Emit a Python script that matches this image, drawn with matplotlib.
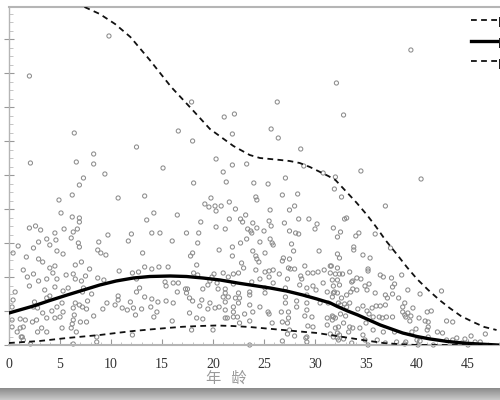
import matplotlib
matplotlib.use("Agg")
import matplotlib.pyplot as plt
import numpy as np
from matplotlib.ticker import MultipleLocator

# Scatter points (age, value). One major y tick = 34 units
ages_top = [9.8, 2.0, 6.4, 12.5, 8.3, 2.1, 6.6, 8.3, 15.1, 9.4, 7.3, 6.9, 6.2, 4.9, 10.7, 13.3, 32.1, 26.3, 17.9, 22.1,
            21.1, 16.6, 25.7, 21.9, 26.4, 18.0, 28.6, 20.3, 21.9, 23.3, 21.0, 18.1, 21.3, 24.0, 25.4, 27.1, 28.9, 30.8,
            32.0, 31.9, 28.3, 26.8, 24.2, 19.8, 32.8, 34.5, 40.4, 32.6, 39.4]
values_top = [309, 269, 212, 198, 191, 182, 183, 181, 177, 171, 167, 160, 150, 145, 147, 149, 262, 243, 243, 231,
              228, 214, 216, 211, 207, 204, 196, 186, 180, 181, 173, 162, 163, 162, 161, 167, 179, 172,
              168, 156, 151, 150, 148, 147, 230, 174, 166, 148, 295]

ages_left = [5.1, 6.2, 6.9, 6.9, 13.5, 14.2, 2.0, 2.6, 3.1, 5.4, 6.7, 6.3, 4.5, 9.7, 12.0, 14.0, 14.8, 6.1, 4.6, 3.7,
             2.9, 8.8, 11.7, 6.8, 6.9, 4.0, 0.9, 2.4, 4.7, 5.3, 8.7, 9.0, 9.5, 13.1, 0.4, 1.7, 2.9, 3.3, 6.5, 7.1,
             4.5, 4.0, 1.4, 7.9, 10.8, 12.1, 12.7, 13.3, 14.0, 14.7, 15.6, 4.3, 1.8, 2.4, 5.6, 6.3, 3.7, 4.7, 2.9, 6.5,
             7.1, 7.5, 8.7, 9.3, 12.5, 2.0, 3.5, 4.5, 5.3, 5.8, 7.3, 15.3, 15.4, 12.8, 12.5, 0.6, 8.1, 7.2, 4.0, 3.7,
             10.7, 13.3, 14.0, 14.6, 15.4, 0.4, 2.5, 7.7, 6.5, 5.2, 4.7, 6.9, 9.6, 10.4, 10.7, 11.9, 13.9, 0.3, 2.4, 2.8,
             4.2, 3.3, 5.3, 6.3, 6.4, 7.2, 7.6, 9.2, 11.1, 11.6, 12.2, 13.0, 14.5, 12.4, 8.3, 14.2, 0.3, 1.1, 1.6, 2.3,
             2.7, 3.7, 4.5, 5.0, 6.3, 7.0, 7.6, 6.2, 3.2, 1.4, 0.3, 5.2, 6.1, 0.8, 2.8, 3.7, 1.3, 6.6, 12.1, 1.2,
             1.4, 2.1, 6.3, 8.6, 8.6, 1.1]
values_left = [132, 128, 127, 123, 125, 132, 117, 119, 115, 116, 116, 113, 112, 110, 111, 112, 112, 107, 105, 106,
               103, 103, 104, 102, 98, 100, 99, 97, 94, 91, 95, 92, 90, 92, 92, 88, 86, 83, 80, 83,
               79, 77, 75, 76, 74, 72, 73, 78, 76, 78, 78, 72, 68, 71, 70, 71, 66, 66, 64, 66,
               64, 69, 67, 65, 66, 59, 55, 58, 54, 57, 57, 63, 59, 57, 53, 53, 51, 53, 49, 47,
               49, 48, 46, 43, 44, 45, 43, 44, 42, 42, 38, 40, 42, 40, 45, 43, 38, 38, 38, 37,
               34, 32, 33, 37, 30, 38, 36, 36, 37, 35, 37, 36, 33, 30, 29, 28, 25, 26, 25, 23,
               25, 27, 27, 28, 25, 23, 23, 21, 17, 18, 18, 17, 17, 13, 13, 13, 8, 13, 10, 8,
               5, 1, 1, 8, 3, 17]

ages_mid = [24.3, 21.6, 19.2, 20.2, 19.6, 20.8, 20.3, 28.0, 27.5, 25.6, 22.2, 23.2, 16.5, 21.6, 22.7, 22.9, 25.5, 28.4, 29.4, 30.2,
            18.8, 27.0, 25.7, 20.3, 21.2, 23.4, 23.7, 23.9, 24.3, 23.8, 25.0, 30.0, 31.8, 27.5, 28.1, 28.4, 17.4, 18.6, 32.2, 23.3,
            25.6, 16.0, 18.5, 22.7, 24.6, 25.8, 25.9, 27.7, 21.9, 20.6, 27.9, 30.4, 23.9, 25.1, 18.0, 17.8, 21.9, 24.2, 32.2, 32.4,
            26.9, 26.8, 27.5, 24.3, 24.5, 22.8, 18.4, 23.0, 27.4, 27.6, 28.0, 29.0, 31.5, 32.2, 24.2, 18.1, 20.1, 21.0, 22.0, 22.5,
            25.1, 25.5, 25.9, 26.5, 29.3, 29.8, 30.3, 30.9, 31.5, 28.6, 25.5, 19.9, 21.5, 24.6, 27.3, 28.7, 30.8, 32.2, 19.7, 18.5,
            16.1, 16.6, 20.4, 22.0, 23.8, 25.9, 28.5, 29.8, 31.8, 19.5, 19.0, 20.5, 17.3, 17.5, 16.5, 17.4, 21.2, 21.2, 23.6, 23.6,
            25.1, 25.1, 27.1, 27.1, 29.2, 29.2, 30.1, 31.2, 31.8, 22.5, 22.2, 22.6, 21.0, 21.5, 17.7, 18.0, 18.9, 16.1, 19.7, 21.2,
            22.5, 23.6, 24.6, 27.1, 28.2, 29.2, 30.5, 31.3, 32.3, 18.7, 20.6, 20.2, 19.5, 22.0, 22.0, 25.4, 25.5, 27.4, 28.2, 29.2,
            17.7, 21.2, 23.9, 26.7, 29.0, 29.7, 31.8, 31.2, 22.0, 23.1, 23.6, 21.2, 21.4, 18.4, 19.0, 22.4, 22.6, 25.8, 26.8, 27.3,
            27.4, 29.3, 29.8, 31.2, 32.0, 32.3, 16.0, 17.9, 20.0, 27.5, 28.0, 27.3, 29.2, 32.2, 31.5, 23.6, 29.1, 29.2, 26.8, 32.2]
values_mid = [145, 143, 141, 139, 138, 139, 134, 139, 135, 135, 136, 130, 130, 126, 126, 123, 124, 126, 126, 121,
              123, 122, 119, 118, 116, 116, 114, 122, 117, 112, 114, 116, 117, 114, 112, 111, 112, 112, 108, 106,
              106, 104, 102, 102, 103, 102, 100, 101, 98, 95, 94, 94, 94, 92, 92, 89, 89, 89, 91, 87,
              87, 84, 86, 86, 83, 82, 80, 77, 77, 76, 76, 79, 79, 77, 75, 72, 71, 72, 71, 72,
              73, 74, 75, 71, 72, 72, 73, 75, 72, 69, 68, 68, 68, 66, 66, 66, 62, 65, 64, 70,
              62, 62, 62, 61, 63, 62, 60, 59, 59, 60, 56, 56, 56, 56, 53, 52, 56, 52, 53, 50,
              57, 52, 57, 48, 57, 50, 55, 53, 52, 52, 47, 47, 48, 48, 47, 44, 45, 42, 42, 43,
              42, 40, 38, 42, 44, 42, 42, 42, 42, 39, 38, 37, 36, 38, 33, 33, 31, 33, 38, 35,
              32, 35, 33, 33, 29, 28, 28, 27, 28, 31, 24, 27, 27, 27, 26, 28, 22, 22, 23, 22,
              27, 19, 18, 20, 27, 18, 24, 15, 15, 15, 9, 11, 8, 12, 11, 0, 7, 3, 4, 7]

ages_right = [36.9, 32.9, 33.1, 32.5, 34.3, 34.0, 35.9, 33.8, 33.8, 37.4, 34.7, 35.4, 31.6, 35.2, 35.2, 33.4, 32.0, 32.4, 32.7, 36.4,
              36.7, 38.5, 37.5, 34.1, 34.5, 33.7, 33.6, 31.7, 35.3, 34.9, 37.6, 37.8, 32.4, 33.7, 34.1, 35.1, 33.5, 39.1, 42.4, 31.9,
              32.2, 35.9, 37.6, 40.3, 36.9, 37.1, 38.2, 33.1, 32.6, 31.7, 38.8, 39.6, 38.6, 36.9, 36.4, 36.0, 35.6, 34.7, 34.2, 35.1,
              33.4, 32.9, 32.5, 33.1, 32.5, 33.0, 31.7, 31.7, 32.8, 35.3, 35.7, 36.3, 36.6, 37.0, 37.6, 38.6, 38.8, 39.1, 38.9, 39.3,
              39.4, 40.2, 40.8, 41.1, 41.0, 41.4, 42.9, 43.5, 41.1, 35.0, 33.4, 33.7, 34.4, 35.7, 36.7, 37.8, 39.9, 39.5, 42.0, 42.5,
              41.0, 46.7, 45.3, 43.9, 44.7, 32.0, 32.4, 31.8, 33.3, 34.7, 36.1, 34.9, 38.0, 38.9, 40.3, 41.1, 40.0, 42.9, 43.5, 45.7,
              46.2, 35.2, 33.6, 32.8, 36.9, 38.8, 40.1, 41.6, 44.4, 45.0, 32.3]
values_right = [139, 126, 127, 113, 112, 109, 111, 98, 95, 97, 90, 87, 79, 76, 74, 73, 71, 71, 71, 70,
                68, 70, 67, 67, 66, 64, 63, 65, 61, 59, 58, 61, 60, 56, 55, 55, 53, 55, 54, 53,
                52, 52, 51, 51, 50, 47, 47, 50, 47, 48, 42, 37, 38, 40, 39, 39, 37, 39, 36, 34,
                42, 41, 40, 38, 31, 29, 29, 25, 22, 31, 28, 28, 27, 28, 28, 33, 30, 32, 28, 24,
                29, 27, 24, 23, 33, 34, 24, 23, 18, 22, 18, 17, 17, 15, 13, 13, 16, 13, 13, 12,
                15, 11, 9, 7, 6, 17, 10, 8, 13, 10, 5, 5, 3, 3, 4, 8, 5, 5, 5, 3,
                3, 0, 2, 6, 2, 1, 0, 0, 2, 0, 5]

# Curves
upper_age = [7.4, 8.9, 10.4, 11.9, 13.8, 15.9, 18.0, 19.7, 22.0, 23.6, 24.6, 25.6, 26.6, 27.5, 28.5, 29.5, 30.5, 31.3, 32.0, 33.1,
             34.1, 35.1, 36.0, 36.9, 38.0, 39.0, 40.0, 41.1, 42.2, 43.2, 44.3, 45.5, 46.6, 47.8]
upper_val = [338, 331, 321, 308, 285, 258, 235, 216, 199, 190, 187, 186, 185, 184, 182, 178, 173, 169, 165, 153,
             142, 130, 118, 105, 91, 78, 66, 55, 45, 37, 29, 23, 18, 15]
mean_age = [0.0, 1.2, 2.4, 4.0, 5.7, 7.3, 8.9, 10.5, 12.2, 13.8, 15.8, 17.4, 19.0, 20.7, 22.4, 24.0, 25.6, 27.2, 28.8, 30.2,
            31.5, 32.2, 33.2, 34.2, 35.3, 36.4, 37.5, 38.6, 40.0, 41.3, 43.0, 44.5, 46.0, 47.9]
mean_val = [32, 35.5, 39, 44.5, 50, 55, 60, 64, 67, 68.5, 69, 68.5, 67, 65, 62, 59.5, 57, 54, 50, 46,
            42, 38.5, 34, 30, 25, 20, 16, 12, 8.5, 6, 3.5, 2, 1, 0]
lower_age = [0.0, 1.5, 3.0, 5.7, 8.9, 10.5, 12.2, 14.0, 15.5, 17.0, 18.7, 20.3, 21.9, 23.6, 26.9, 28.5, 30.2, 31.8, 33.4, 35.0,
             36.7, 38.3, 40.0, 47.9]
lower_val = [2, 3, 4, 7, 10, 12, 14, 15.7, 17, 18.2, 19, 19.5, 19, 18, 15, 13.5, 12, 9.5, 7, 4.5,
             2, 0.8, 0, 0]

x_ticks = [0, 5, 10, 15, 20, 25, 30, 35, 40, 45]

fig = plt.figure(figsize=(5, 4), dpi=100)
ax = fig.add_axes([9 / 500, 55 / 400, 491 / 500, 338 / 400])

all_ages = ages_top + ages_left + ages_mid + ages_right
all_values = values_top + values_left + values_mid + values_right
ax.scatter(all_ages, all_values, s=9, facecolors="none", edgecolors="#8c8c8c", linewidths=0.75, clip_on=False, zorder=2)

dash = (0, (3.2, 2.4))
h1, = ax.plot(upper_age, upper_val, color="#111111", lw=1.3, linestyle=dash, zorder=3)
h2, = ax.plot(mean_age, mean_val, color="black", lw=2.4, zorder=3)
h3, = ax.plot(lower_age, lower_val, color="#111111", lw=1.3, linestyle=dash, zorder=3)

ax.set_xlim(0, 491 / 10.2)
ax.set_ylim(0, 338)
ax.set_xticks(x_ticks)
ax.set_xticklabels(x_ticks, family="Liberation Serif", fontsize=10, color="#333333")
ax.xaxis.set_minor_locator(MultipleLocator(1))
ax.yaxis.set_major_locator(MultipleLocator(34))
ax.yaxis.set_minor_locator(MultipleLocator(8.5))
ax.set_yticklabels([])
ax.tick_params(axis="x", which="major", direction="in", length=4, width=0.8, color="#999999", pad=9)
ax.tick_params(axis="x", which="minor", direction="in", length=2, width=0.6, color="#bbbbbb")
ax.tick_params(axis="y", which="major", direction="inout", length=7, width=0.8, color="#999999")
ax.tick_params(axis="y", which="minor", direction="in", length=3, width=0.6, color="#bbbbbb")

ax.spines["right"].set_visible(False)
ax.spines["top"].set_color("#b5b5b5")
ax.spines["top"].set_linewidth(1.5)
ax.spines["bottom"].set_color("#b5b5b5")
ax.spines["bottom"].set_linewidth(1.5)
ax.spines["left"].set_color("#b5b5b5")
ax.spines["left"].set_linewidth(1.0)

ax.set_xlabel("年   龄", family="Noto Sans CJK SC", fontsize=11, color="#9a9a9a", labelpad=0)
ax.xaxis.set_label_coords(217 / 491, -25 / 338)

ax.legend([h1, h2, h3], ["p", "p", "p"], loc="upper left", bbox_to_anchor=(471 / 500, 1 - 14 / 400),
          bbox_transform=fig.transFigure, frameon=False, fontsize=9, handlelength=2.08, handletextpad=0.1,
          labelspacing=0.63, borderpad=0, borderaxespad=0)

# grey band along the bottom edge of the screenshot
band = fig.add_axes([0, 0, 1, 12 / 400])
band.imshow(np.linspace(0.55, 0.78, 12).reshape(-1, 1), aspect="auto", cmap="gray", vmin=0, vmax=1)
band.axis("off")

fig.savefig("out.png", dpi=100)
